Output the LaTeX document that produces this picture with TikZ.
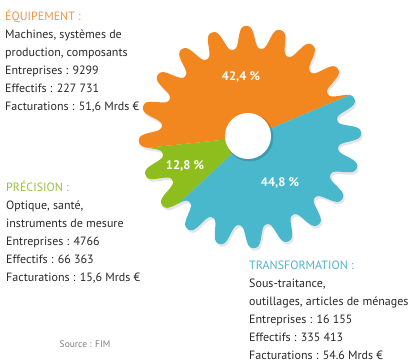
\documentclass[tikz,border=0pt]{standalone}
\usepackage{fontspec}
\setmainfont{PT Sans}
\usetikzlibrary{positioning}
\definecolor{equipcol}{RGB}{242,135,32}
\definecolor{transcol}{RGB}{74,184,204}
\definecolor{precicol}{RGB}{141,190,30}
\definecolor{equiphead}{RGB}{240,150,70}
\definecolor{precihead}{RGB}{150,195,60}
\definecolor{transhead}{RGB}{80,180,200}
\definecolor{bodytext}{RGB}{40,40,40}
\newcommand{\gearoutline}{plot[domain=0:360,samples=721,variable=\t] (\t:{100+12.6*tanh(1.4*cos(20*(\t-92)))})}
\tikzset{infobox/.style={anchor=north west,align=left,inner sep=0pt,text=bodytext,font=\fontsize{12}{18}\selectfont}}
\tikzset{pct/.style={text=white,font=\fontsize{12.5}{14}\selectfont\bfseries}}
\tikzset{source/.style={text=black!50,font=\fontsize{9.5}{11}\selectfont}}
\tikzset{wedge/.style={draw=none}}

\begin{document}
\begin{tikzpicture}[x=1pt,y=1pt]
    \useasboundingbox (0,0) rectangle (409,362);
    \coordinate (gc) at (250,225);
    \coordinate (hc) at (248,226);

    % gear shadow
    \fill[black,opacity=0.1,shift={(251.5,222.5)}] \gearoutline -- cycle;

    % gear wedges
    \begin{scope}
        \clip[shift={(gc)}] \gearoutline -- cycle;
        \fill[wedge,equipcol] (gc) -- ++(22.8:150) arc[start angle=22.8,end angle=186,radius=150pt] -- cycle;
        \fill[wedge,precicol] (gc) -- ++(186:150) arc[start angle=186,end angle=223,radius=150pt] -- cycle;
        \fill[wedge,transcol] (gc) -- ++(223:150) arc[start angle=223,end angle=382.8,radius=150pt] -- cycle;
    \end{scope}

    % hole
    \fill[black,opacity=0.15] (hc) ++(1.5,-1.5) circle[radius=24pt];
    \fill[white] (hc) circle[radius=23pt];

    \node[pct] (p1) at (241,285) {42,4 \%};
    \node[pct] (p2) at (280,179) {44,8 \%};
    \node[pct] (p3) at (185,196) {12,8 \%};

    \node[infobox] (equip) at (5,352) {\textcolor{equiphead}{ÉQUIPEMENT :}\\Machines, systèmes de\\production, composants\\Entreprises : 9299\\Effectifs : 227 731\\Facturations : 51,6 Mrds €};
    \node[infobox] (preci) at (6,181) {\textcolor{precihead}{PRÉCISION :}\\Optique, santé,\\instruments de mesure\\Entreprises : 4766\\Effectifs : 66 363\\Facturations : 15,6 Mrds €};
    \node[infobox] (trans) at (249,101) {\textcolor{transhead}{TRANSFORMATION :}\\Sous-traitance,\\outillages, articles de ménages\\Entreprises : 16 155\\Effectifs : 335 413\\Facturations : 54.6 Mrds €};

    \node[source] (src) at (85,18) {Source : FIM};
\end{tikzpicture}
\end{document}
